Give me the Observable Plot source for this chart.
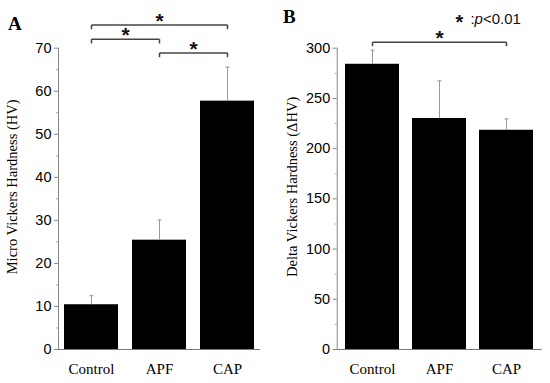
<!DOCTYPE html>
<html><head><meta charset="utf-8">
<script src="https://cdn.jsdelivr.net/npm/d3@7"></script>
<script src="https://cdn.jsdelivr.net/npm/@observablehq/plot@0.6"></script>
<style>
body{margin:0;background:#fff;}
#wrap{display:flex;width:550px;height:383px;}
svg{overflow:visible;}
</style></head>
<body><div id="wrap"></div>
<script>
const groups = ["Control", "APF", "CAP"];
// Panel A: Micro Vickers Hardness (HV)
const hvMean = [10.4, 25.4, 57.7];
const hvErr = [2.1, 4.7, 7.9];
const hvTicks = [0, 10, 20, 30, 40, 50, 60, 70];
const hvBrackets = [
  {from: "Control", to: "CAP", level: 75.4},
  {from: "Control", to: "APF", level: 72.1},
  {from: "APF", to: "CAP", level: 68.9}
];
// Panel B: Delta Vickers Hardness (ΔHV)
const dhvMean = [284, 230, 218.3];
const dhvErr = [14, 37.5, 11.3];
const dhvTicks = [0, 50, 100, 150, 200, 250, 300];
const dhvBrackets = [
  {from: "Control", to: "CAP", level: 306}
];

const serif = "'Liberation Serif', 'Times New Roman', serif";
const sans = "'Liberation Sans', Arial, sans-serif";
const capSymbol = {draw(ctx) { ctx.moveTo(-2, 0); ctx.lineTo(2, 0); }};

function panel({means, errs, ticks, max, minorStep, brackets, letter, letterDy, ylabel, labelX, marginLeft, marginRight, pi, po, tickLen, extra}) {
  const data = groups.map((g, i) => ({g, v: means[i], e: means[i] + errs[i]}));
  const minor = d3.range(0, max + 1e-9, minorStep).filter(v => !ticks.includes(v));
  const bData = [];
  for (const b of brackets) {
    bData.push({x1: b.from, x2: b.to, y1: b.level, y2: b.level});
    bData.push({x1: b.from, x2: b.from, y1: b.level, y2: b.level - tickLen});
    bData.push({x1: b.to, x2: b.to, y1: b.level, y2: b.level - tickLen});
  }
  return Plot.plot({
    width: 275, height: 383,
    marginLeft, marginRight, marginTop: 47.7, marginBottom: 34,
    x: {domain: groups, paddingInner: pi, paddingOuter: po, label: null, axis: null},
    y: {domain: [0, max], label: null, axis: null},
    style: {background: "white"},
    marks: [
      Plot.barY(data, {x: "g", y: "v", fill: "black"}),
      Plot.ruleX(data, {x: "g", y1: "v", y2: "e", stroke: "#999", strokeWidth: 1}),
      Plot.dot(data, {x: "g", y: "e", symbol: capSymbol, stroke: "#999", strokeWidth: 1, r: 2}),
      // axes
      Plot.frame({anchor: "left", stroke: "#888", strokeWidth: 1}),
      Plot.ruleY([0], {stroke: "#777", strokeWidth: 1}),
      Plot.axisY({ticks, tickSize: 4, tickPadding: 3, stroke: "#888", fontSize: 14.5, fontFamily: sans, fill: "black", label: null, tickFormat: d => d}),
      Plot.axisY({ticks: minor, tickSize: 2, stroke: "#aaa", tickFormat: () => "", label: null}),
      Plot.axisX({tickSize: 0, tickPadding: 14, fontSize: 15, fontFamily: serif, fill: "black", label: null}),
      // y label
      Plot.text([ylabel], {frameAnchor: "left", dx: -(marginLeft - labelX), dy: -12, rotate: -90, textAnchor: "middle", fontSize: 14.5, fontFamily: serif, fill: "black", text: d => d}),
      // brackets
      Plot.link(bData, {x1: "x1", x2: "x2", y1: "y1", y2: "y2", stroke: "#444", strokeWidth: 1.5}),
      Plot.text(brackets, {x: "from", y: "level", text: () => "*", fontSize: 21, fontFamily: sans, fontWeight: "bold", fill: "#111",
        render: (index, scales, values, dims, ctx, next) => {
          const g = next(index, scales, values, dims, ctx);
          d3.select(g).selectAll("text").each(function(_, k) {
            const b = brackets[index[k]];
            const cx = (scales.x(b.from) + scales.x(b.to)) / 2;
            const y = scales.y(b.level) + 3;
            d3.select(this).attr("transform", `translate(${cx},${y})`).attr("x", null).attr("y", null);
          });
          return g;
        }}),
      // panel letter
      Plot.text([letter], {frameAnchor: "top-left", dx: -(marginLeft - 7.5), dy: letterDy, fontSize: 19, fontWeight: "bold", fontFamily: serif, fill: "black", text: d => d}),
      ...(extra || [])
    ]
  });
}

const wrap = document.getElementById("wrap");
wrap.append(panel({
  means: hvMean, errs: hvErr, ticks: hvTicks, max: 70, minorStep: 5, brackets: hvBrackets,
  letter: "A", letterDy: -32, ylabel: "Micro Vickers Hardness (HV)", labelX: 11.5, marginLeft: 58, marginRight: 15,
  pi: 0.2, po: 0.085, tickLen: 1
}));
wrap.append(panel({
  means: dhvMean, errs: dhvErr, ticks: dhvTicks, max: 300, minorStep: 25, brackets: dhvBrackets,
  letter: "B", letterDy: -39, ylabel: "Delta Vickers Hardness (ΔHV)", labelX: 16.5, marginLeft: 61.7, marginRight: 8.3,
  pi: 0.19, po: 0.11, tickLen: 4,
  extra: [
    Plot.text(["*"], {frameAnchor: "top-left", lineAnchor: "middle", textAnchor: "middle", dx: 459 - 275 - 61.7, dy: -25.5, fontSize: 20, fontWeight: "bold", fontFamily: sans, fill: "#111", text: d => d}),
    Plot.text([":"], {frameAnchor: "top-left", dx: 470 - 275 - 61.7, dy: -34.5, fontSize: 15, fontFamily: sans, fill: "#111", text: d => d}),
    Plot.text(["p"], {frameAnchor: "top-left", dx: 474 - 275 - 61.7, dy: -34.5, fontSize: 15, fontStyle: "italic", fontFamily: sans, fill: "#111", text: d => d}),
    Plot.text(["<0.01"], {frameAnchor: "top-left", dx: 482.5 - 275 - 61.7, dy: -34.5, fontSize: 15, fontFamily: sans, fill: "#111", text: d => d})
  ]
}));
</script></body></html>
